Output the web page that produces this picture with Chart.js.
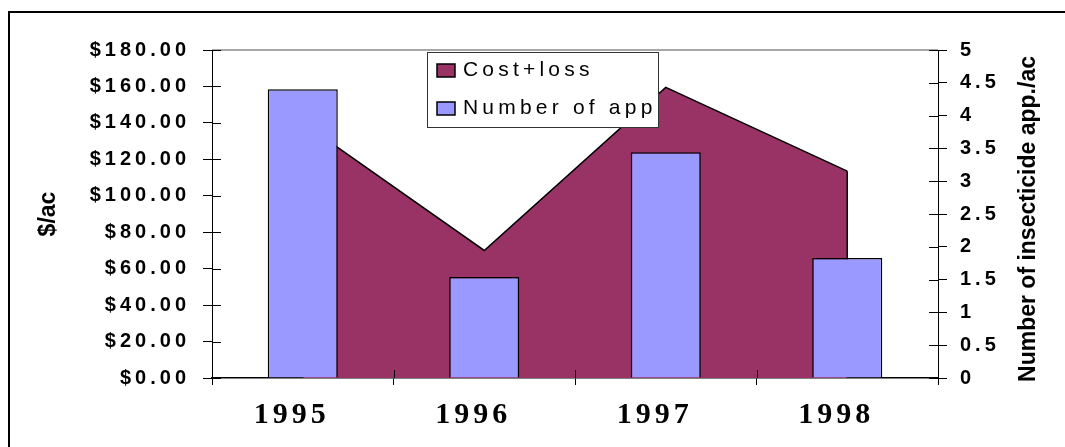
<!DOCTYPE html>
<html lang="en">
<head>
    <meta charset="UTF-8">
    <title>Cost+loss and number of insecticide applications</title>
    <script src="https://cdn.jsdelivr.net/npm/chart.js"></script>
    <style>
        body { margin: 0; background: #fff; }
        #wrap { width: 1065px; height: 447px; position: relative; }
    </style>
</head>
<body>
    <div id="wrap"><canvas id="myChart"></canvas></div>

    <script>
        // data
        var years = ['1995', '1996', '1997', '1998'];
        var costLoss = [140, 70, 159.5, 113.5];      // $/ac, area
        var numApps = [4.4, 1.54, 3.44, 1.83];       // applications/ac, bars
        var dollarMax = 180, dollarStep = 20;
        var appMax = 5, appStep = 0.5;

        var SANS = '"Liberation Sans", Arial, sans-serif';
        var SERIF = '"Liberation Serif", "Times New Roman", serif';

        // scales whose tick labels are drawn with letter spacing
        class SpacedCategory extends Chart.CategoryScale {
            drawLabels(area) {
                this.ctx.save();
                this.ctx.letterSpacing = this.options.labelSpacing || '0px';
                super.drawLabels(area);
                this.ctx.restore();
            }
        }
        SpacedCategory.id = 'spacedCategory';
        SpacedCategory.defaults = Chart.CategoryScale.defaults;

        class SpacedLinear extends Chart.LinearScale {
            drawLabels(area) {
                this.ctx.save();
                this.ctx.letterSpacing = this.options.labelSpacing || '0px';
                super.drawLabels(area);
                this.ctx.restore();
            }
        }
        SpacedLinear.id = 'spacedLinear';
        SpacedLinear.defaults = Chart.LinearScale.defaults;
        Chart.register(SpacedCategory, SpacedLinear);

        // vertical edges of the area at first and last point
        var areaEdges = {
            id: 'areaEdges',
            afterDatasetDraw: function (chart, args) {
                if (args.index !== 0) return;
                var pts = args.meta.data;
                var y0 = chart.scales.y.getPixelForValue(0);
                var ctx = chart.ctx;
                ctx.save();
                ctx.strokeStyle = '#000';
                ctx.lineWidth = 1.5;
                [pts[0], pts[pts.length - 1]].forEach(function (p) {
                    ctx.beginPath();
                    ctx.moveTo(p.x, p.y);
                    ctx.lineTo(p.x, y0);
                    ctx.stroke();
                });
                ctx.restore();
            }
        };

        var decor = {
            id: 'decor',
            afterDraw: function (chart) {
                var ctx = chart.ctx;
                var a = chart.chartArea;
                ctx.save();

                // outer frame
                ctx.strokeStyle = '#000';
                ctx.lineWidth = 2;
                ctx.strokeRect(9, 12, 1200, 600);

                // top edge of plot area
                ctx.strokeStyle = '#8a8a8a';
                ctx.lineWidth = 1.5;
                ctx.beginPath();
                ctx.moveTo(a.left, a.top);
                ctx.lineTo(a.right, a.top);
                ctx.stroke();

                // inner halves of tick marks
                ctx.strokeStyle = '#000';
                ctx.lineWidth = 1;
                var sy = chart.scales.y, sy1 = chart.scales.y1, sx = chart.scales.x;
                sy.ticks.forEach(function (t) {
                    var py = Math.round(sy.getPixelForValue(t.value)) + 0.5;
                    ctx.beginPath(); ctx.moveTo(a.left, py); ctx.lineTo(a.left + 9, py); ctx.stroke();
                });
                sy1.ticks.forEach(function (t) {
                    var py = Math.round(sy1.getPixelForValue(t.value)) + 0.5;
                    ctx.beginPath(); ctx.moveTo(a.right - 9, py); ctx.lineTo(a.right, py); ctx.stroke();
                });
                for (var i = 1; i < years.length; i++) {
                    var px = Math.round(sx.getPixelForValue(i - 0.5)) + 0.5;
                    ctx.beginPath(); ctx.moveTo(px, a.bottom - 8); ctx.lineTo(px, a.bottom); ctx.stroke();
                }

                // right axis title, reading bottom to top
                ctx.fillStyle = '#000';
                ctx.font = 'bold 23px ' + SANS;
                ctx.textAlign = 'center';
                ctx.textBaseline = 'alphabetic';
                ctx.translate(1035, (a.top + a.bottom) / 2 + 5);
                ctx.rotate(-Math.PI / 2);
                ctx.fillText('Number of insecticide app./ac', 0, 0);
                ctx.restore();

                // legend box
                ctx.save();
                ctx.fillStyle = '#fff';
                ctx.fillRect(427, 52, 232, 76);
                ctx.strokeStyle = '#333';
                ctx.lineWidth = 1;
                ctx.strokeRect(427.5, 52.5, 231, 75);
                var rows = [70, 108];
                chart.data.datasets.forEach(function (ds, k) {
                    var cy = rows[k];
                    ctx.fillStyle = ds.backgroundColor;
                    ctx.fillRect(437, cy - 6, 18, 13);
                    ctx.strokeStyle = '#000';
                    ctx.lineWidth = 1.5;
                    ctx.strokeRect(437, cy - 6, 18, 13);
                    ctx.fillStyle = '#000';
                    ctx.font = '21px ' + SANS;
                    ctx.letterSpacing = '4.2px';
                    ctx.textAlign = 'left';
                    ctx.textBaseline = 'middle';
                    ctx.fillText(ds.label, 463, cy);
                });
                ctx.restore();
            }
        };

        var config = {
            type: 'bar',
            data: {
                labels: years,
                datasets: [
                    {
                        type: 'line',
                        label: 'Cost+loss',
                        data: costLoss,
                        yAxisID: 'y',
                        fill: 'origin',
                        backgroundColor: '#993366',
                        borderColor: '#000',
                        borderWidth: 1.5,
                        pointRadius: 0,
                        tension: 0,
                        order: 2
                    },
                    {
                        type: 'bar',
                        label: 'Number of app',
                        data: numApps,
                        yAxisID: 'y1',
                        backgroundColor: '#9999FF',
                        borderColor: '#000',
                        borderWidth: 1.5,
                        barPercentage: 0.386,
                        categoryPercentage: 1,
                        order: 1
                    }
                ]
            },
            options: {
                responsive: true,
                maintainAspectRatio: false,
                animation: false,
                layout: { padding: { top: 50, left: 0, right: 0, bottom: 0 } },
                plugins: {
                    legend: { display: false },
                    tooltip: { enabled: false }
                },
                scales: {
                    x: {
                        type: 'spacedCategory',
                        labelSpacing: '4px',
                        offset: true,
                        grid: { offset: true, drawOnChartArea: false, tickLength: 7, color: '#000' },
                        border: { color: '#000', width: 1.5 },
                        ticks: {
                            font: { family: SERIF, size: 30, weight: 'bold' },
                            color: '#000',
                            padding: 12,
                            labelOffset: -11,
                            maxRotation: 0,
                            autoSkip: false
                        },
                        afterFit: function (s) { s.height = 69; }
                    },
                    y: {
                        type: 'spacedLinear',
                        labelSpacing: '4px',
                        position: 'left',
                        min: 0,
                        max: dollarMax,
                        grid: { drawOnChartArea: false, tickLength: 9, color: '#000' },
                        border: { color: '#000', width: 1 },
                        ticks: {
                            stepSize: dollarStep,
                            callback: function (v) { return '$' + v.toFixed(2); },
                            font: { family: SANS, size: 20, weight: 'bold' },
                            color: '#000',
                            padding: 13
                        },
                        title: {
                            display: true,
                            text: '$/ac',
                            font: { family: SANS, size: 23, weight: 'bold' },
                            color: '#000',
                            padding: { top: 35, bottom: 0 }
                        },
                        afterFit: function (s) { s.width = 212; }
                    },
                    y1: {
                        type: 'spacedLinear',
                        labelSpacing: '4px',
                        position: 'right',
                        min: 0,
                        max: appMax,
                        grid: { drawOnChartArea: false, tickLength: 9, color: '#000' },
                        border: { color: '#000', width: 1 },
                        ticks: {
                            stepSize: appStep,
                            callback: function (v) { return String(v); },
                            font: { family: SANS, size: 20, weight: 'bold' },
                            color: '#000',
                            padding: 13
                        },
                        afterFit: function (s) { s.width = 127; }
                    }
                }
            },
            plugins: [areaEdges, decor]
        };

        var myChart = new Chart(document.getElementById('myChart'), config);
    </script>
</body>
</html>
